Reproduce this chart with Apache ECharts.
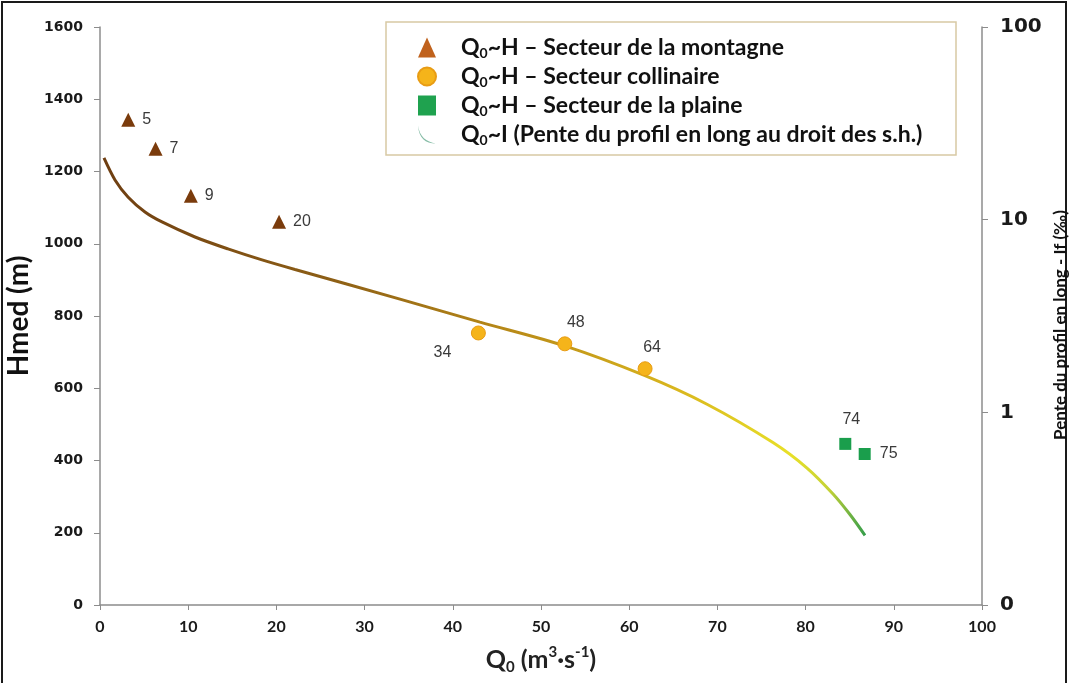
<!DOCTYPE html>
<html>
<head>
<meta charset="utf-8">
<script src="https://cdn.jsdelivr.net/npm/echarts@6/dist/echarts.min.js"></script>
<style>
  html, body { margin: 0; padding: 0; background: #fff; }
  #chart { width: 1069px; height: 683px; }
</style>
</head>
<body>
<div id="chart"></div>
<script>
// station numbers, discharge Q0 (m3/s) and median altitude Hmed (m)
var mountainIds = [5, 7, 9, 20];
var mountainQ = [3.2, 6.3, 10.3, 20.3];
var mountainH = [1343, 1263, 1133, 1061];

var hillIds = [34, 48, 64];
var hillQ = [42.9, 52.7, 61.8];
var hillH = [753, 723, 654];

var plainIds = [74, 75];
var plainQ = [84.5, 86.7];
var plainH = [446, 418];

// Q0 ~ I curve (slope of long profile, per mille, log axis)
var slopeQ = [0.45, 1.70, 3.17, 5.10, 7.03, 10.77, 14.51, 18.37, 22.11, 34.01, 43.08, 52.61, 61.79, 68.82, 76.30, 80.16, 83.11, 85.03, 86.73];
var slopeI = [20.9, 16.07, 13.12, 10.96, 9.73, 8.13, 7.05, 6.18, 5.51, 3.87, 2.94, 2.22, 1.55, 1.102, 0.697, 0.514, 0.377, 0.295, 0.230];

var xTicks = [0, 10, 20, 30, 40, 50, 60, 70, 80, 90, 100];
var leftTicks = [0, 200, 400, 600, 800, 1000, 1200, 1400, 1600];
var rightTicks = [0.1, 1, 10, 100];

var legendNames = [
    'Q0~H – Secteur de la montagne',
    'Q0~H – Secteur collinaire',
    'Q0~H – Secteur de la plaine',
    'Q0~I (Pente du profil en long au droit des s.h.)'
];

function pts(xs, ys, ids) {
    return xs.map(function (x, i) {
        return ids ? { value: [x, ys[i]], name: String(ids[i]) } : [x, ys[i]];
    });
}

var chart = echarts.init(document.getElementById('chart'));

var labelFont = { fontFamily: 'Liberation Sans', fontSize: 16, color: '#3a3a3a' };

// label offsets for points (by index)
var hillOffsets = [[-36, 20], [11, -21], [7, -21]];
var plainOffsets = [[6, -24], [24, 0]];

var option = {
    backgroundColor: '#fff',
    animation: false,
    grid: { left: 100, right: 87, top: 27, bottom: 78, outerBoundsMode: 'none' },
    graphic: [
        {
            type: 'rect', z: -10,
            shape: { x: 2, y: 2, width: 1064, height: 700 },
            style: { fill: 'none', stroke: '#1a1a1a', lineWidth: 2 }
        },
        {
            type: 'rect', z: 1,
            shape: { x: 386, y: 22, width: 570, height: 133 },
            style: { fill: '#fff', stroke: '#d8c9a4', lineWidth: 1.5 }
        }
    ],
    legend: {
        orient: 'vertical',
        left: 412,
        top: 31,
        z: 5,
        itemWidth: 18,
        itemHeight: 20,
        itemGap: 5,
        data: [
            { name: legendNames[0], icon: 'triangle', itemStyle: { color: '#c0621d', opacity: 1 } },
            { name: legendNames[1], icon: 'circle', itemStyle: { color: '#f5b41a', opacity: 1 } },
            { name: legendNames[2], icon: 'rect', itemStyle: { color: '#1fa24f', opacity: 1 } },
            { name: legendNames[3], icon: 'path://M0,0 C1,14 8,20 20,20 C9,18 2,13 0,0 Z',
              itemStyle: { color: '#86bca6' } }
        ],
        formatter: function (name) {
            return '{t|Q}{s|0}{t|' + name.slice(2) + '}';
        },
        textStyle: {
            padding: [0, 0, 0, 20],
            rich: {
                t: { fontFamily: 'Lato', fontWeight: 'bold', fontSize: 23, color: '#111', lineHeight: 25 },
                s: { fontFamily: 'Lato', fontWeight: 'bold', fontSize: 14, color: '#111', lineHeight: 13, verticalAlign: 'bottom' }
            }
        }
    },
    xAxis: {
        type: 'value',
        min: 0, max: 100, interval: 10,
        name: '{t|Q}{s|0}{t| (m}{p|3}{t|·s}{p|-1}{t|)}',
        nameLocation: 'middle',
        nameGap: 40,
        nameTextStyle: {
            rich: {
                t: { fontFamily: 'Lato', fontWeight: 'bold', fontSize: 25, color: '#222', lineHeight: 30 },
                s: { fontFamily: 'Lato', fontWeight: 'bold', fontSize: 15, color: '#222', lineHeight: 14, verticalAlign: 'bottom' },
                p: { fontFamily: 'Lato', fontWeight: 'bold', fontSize: 15, color: '#222', lineHeight: 15, verticalAlign: 'top' }
            }
        },
        axisLine: { onZero: false, lineStyle: { color: '#8c8c8c', width: 1.5 } },
        axisTick: { show: true, length: 5, lineStyle: { color: '#8c8c8c' } },
        axisLabel: {
            margin: 14,
            fontFamily: 'Lato', fontWeight: 'bold', fontSize: 16, color: '#1a1a1a',
            customValues: xTicks
        },
        splitLine: { show: false }
    },
    yAxis: [
        {
            type: 'value',
            min: 0, max: 1600, interval: 200,
            name: 'Hmed (m)',
            nameLocation: 'middle',
            nameGap: 54,
            nameTextStyle: { fontFamily: 'Lato', fontWeight: 'bold', fontSize: 28, color: '#111' },
            axisLine: { show: true, onZero: false, lineStyle: { color: '#8c8c8c', width: 1.5 } },
            axisTick: { show: true, length: 6, lineStyle: { color: '#8c8c8c' } },
            axisLabel: {
                margin: 17,
                fontFamily: 'DejaVu Sans', fontWeight: 'bold', fontSize: 14, color: '#1a1a1a',
                customValues: leftTicks,
                formatter: function (v) { return String(v); }
            },
            splitLine: { show: false }
        },
        {
            type: 'log',
            logBase: 10,
            min: 0.1, max: 100,
            position: 'right',
            name: 'Pente du profil en long - If (‰)',
            nameLocation: 'middle',
            nameRotate: 90,
            nameGap: 70,
            nameMoveOverlap: false,
            nameTextStyle: { fontFamily: 'Lato', fontWeight: 'bold', fontSize: 17, color: '#111', padding: [0, 18, 0, 0] },
            axisLine: { show: true, onZero: false, lineStyle: { color: '#8c8c8c', width: 1.5 } },
            axisTick: { show: true, length: 6, lineStyle: { color: '#8c8c8c' } },
            axisLabel: {
                margin: 18,
                fontFamily: 'DejaVu Sans', fontWeight: 'bold', fontSize: 20, color: '#1a1a1a',
                customValues: rightTicks,
                formatter: function (v) { return v < 1 ? '0' : String(Math.round(v)); }
            },
            splitLine: { show: false }
        }
    ],
    series: [
        {
            name: legendNames[0],
            type: 'scatter',
            symbol: 'triangle',
            symbolSize: [14, 14],
            itemStyle: { color: '#7a3b0c', opacity: 1 },
            label: { show: true, position: 'right', distance: 7, formatter: '{b}', fontFamily: labelFont.fontFamily, fontSize: labelFont.fontSize, color: labelFont.color },
            data: pts(mountainQ, mountainH, mountainIds)
        },
        {
            name: legendNames[1],
            type: 'scatter',
            symbol: 'circle',
            symbolSize: 14,
            itemStyle: { color: '#f5b41a', borderColor: '#e89c14', borderWidth: 1, opacity: 1 },
            label: { show: true, formatter: '{b}', fontFamily: labelFont.fontFamily, fontSize: labelFont.fontSize, color: labelFont.color },
            data: pts(hillQ, hillH, hillIds).map(function (d, i) {
                d.label = { position: 'inside', offset: hillOffsets[i] };
                return d;
            }),
            z: 4
        },
        {
            name: legendNames[2],
            type: 'scatter',
            symbol: 'rect',
            symbolSize: 12,
            itemStyle: { color: '#1a9e4c', opacity: 1 },
            label: { show: true, formatter: '{b}', fontFamily: labelFont.fontFamily, fontSize: labelFont.fontSize, color: labelFont.color },
            data: pts(plainQ, plainH, plainIds).map(function (d, i) {
                d.label = { position: 'inside', offset: plainOffsets[i] };
                return d;
            })
        },
        {
            name: legendNames[3],
            type: 'line',
            yAxisIndex: 1,
            smooth: 0.3,
            showSymbol: false,
            symbol: 'none',
            lineStyle: {
                width: 3,
                color: new echarts.graphic.LinearGradient(0, 0, 1, 0, [
                    { offset: 0, color: '#6e3e12' },
                    { offset: 0.3, color: '#8d5f16' },
                    { offset: 0.55, color: '#bb8d18' },
                    { offset: 0.75, color: '#d9b61e' },
                    { offset: 0.9, color: '#e8e028' },
                    { offset: 0.95, color: '#c4d236' },
                    { offset: 1, color: '#2c9a4c' }
                ])
            },
            data: pts(slopeQ, slopeI),
            z: 3
        }
    ]
};

chart.setOption(option);
</script>
</body>
</html>
